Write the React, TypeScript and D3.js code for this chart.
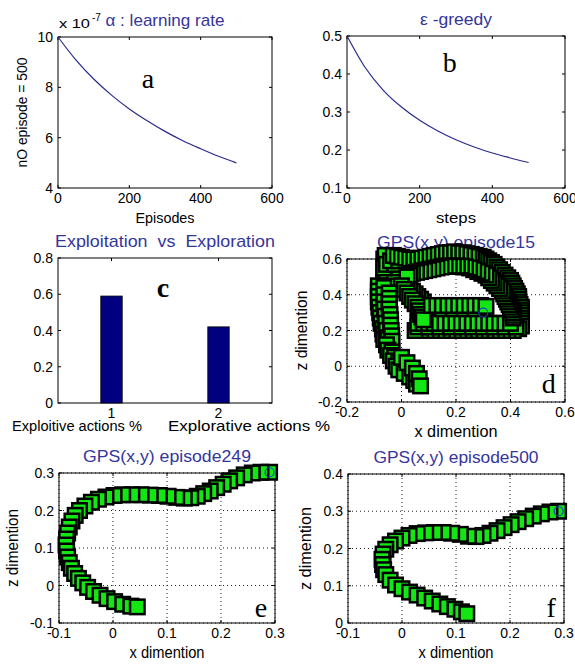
import * as d3 from "d3";
import { useEffect, useRef } from "react";

// panel a: learning rate (x 10^-7) per episode
const episodes = [0, 50, 100, 150, 200, 250, 300, 350, 400, 450, 500];
const learningRate = [10, 9.09, 8.33, 7.69, 7.14, 6.67, 6.25, 5.88, 5.56, 5.26, 5.0];

// panel b: epsilon-greedy per step
const steps = [0, 50, 100, 150, 200, 250, 300, 350, 400, 450, 500];
const epsilon = [0.5, 0.417, 0.357, 0.313, 0.278, 0.25, 0.227, 0.208, 0.192, 0.179, 0.167];

// panel c: exploitation vs exploration
const actionTicks = [1, 2];
const actionShare = [0.59, 0.42];
const actionNames = ["Exploitive actions %", "Explorative actions %"];

// panels d, e, f: GPS tracks [x, z]
const gpsEpisode15: [number, number][] = [
  // upper arm
  [0.3, 0.3], [0.28, 0.3], [0.26, 0.3], [0.24, 0.3], [0.22, 0.3], [0.2, 0.3],
  [0.18, 0.3], [0.16, 0.3], [0.14, 0.3], [0.12, 0.3], [0.1, 0.3],
  [0.11, 0.32], [0.15, 0.32], [0.19, 0.32], [0.23, 0.32], [0.27, 0.32],
  // diagonal up to the blob
  [0.09, 0.33], [0.08, 0.36], [0.07, 0.375], [0.06, 0.39], [0.05, 0.405], [0.04, 0.42],
  [0.03, 0.435], [0.02, 0.45], [0.01, 0.465], [0.0, 0.48], [-0.01, 0.495], [-0.02, 0.51],
  [-0.03, 0.525], [-0.04, 0.54], [-0.05, 0.555], [-0.06, 0.57], [-0.065, 0.6], [-0.06, 0.62],
  // blob
  [-0.065, 0.47], [-0.04, 0.47], [-0.01, 0.47], [-0.065, 0.51], [-0.04, 0.51], [-0.055, 0.49],
  [-0.025, 0.49], [-0.055, 0.53], [-0.025, 0.53], [-0.065, 0.55], [-0.01, 0.55],
  [-0.055, 0.57], [-0.025, 0.57], [-0.04, 0.59], [-0.01, 0.59],
  // outer arch
  [-0.03, 0.62], [-0.015, 0.615], [0.0, 0.61], [0.015, 0.605], [0.03, 0.6], [0.045, 0.6],
  [0.06, 0.6], [0.075, 0.605], [0.09, 0.61], [0.105, 0.615], [0.12, 0.62], [0.135, 0.625],
  [0.15, 0.63], [0.165, 0.635], [0.18, 0.635], [0.195, 0.64], [0.21, 0.635], [0.225, 0.635],
  [0.24, 0.63], [0.255, 0.625], [0.27, 0.62], [0.285, 0.615], [0.3, 0.61], [0.31, 0.6],
  [0.32, 0.59], [0.33, 0.58], [0.34, 0.57], [0.35, 0.555], [0.36, 0.54], [0.37, 0.525],
  [0.38, 0.51], [0.39, 0.495], [0.4, 0.48], [0.405, 0.465], [0.41, 0.45], [0.415, 0.435],
  [0.42, 0.42], [0.425, 0.405], [0.43, 0.39], [0.43, 0.375], [0.43, 0.36], [0.435, 0.345],
  [0.44, 0.33], [0.44, 0.315], [0.44, 0.3], [0.44, 0.285], [0.44, 0.27], [0.44, 0.255],
  [0.44, 0.24], [0.44, 0.225], [0.43, 0.21],
  // lower arm, going left
  [0.41, 0.2], [0.39, 0.2], [0.37, 0.2], [0.35, 0.2], [0.33, 0.2], [0.31, 0.2], [0.29, 0.2],
  [0.27, 0.2], [0.25, 0.2], [0.23, 0.2], [0.21, 0.2], [0.19, 0.2], [0.17, 0.2], [0.15, 0.2],
  [0.13, 0.2], [0.11, 0.2], [0.09, 0.2], [0.07, 0.2], [0.05, 0.2],
  [0.06, 0.22], [0.1, 0.22], [0.14, 0.22], [0.18, 0.22], [0.22, 0.22], [0.26, 0.22],
  [0.3, 0.22], [0.34, 0.22], [0.38, 0.22], [0.42, 0.22],
  // lower arm, coming back
  [0.06, 0.24], [0.08, 0.24], [0.1, 0.24], [0.12, 0.24], [0.14, 0.24], [0.16, 0.24],
  [0.18, 0.24], [0.2, 0.24], [0.22, 0.24], [0.24, 0.24], [0.26, 0.24], [0.28, 0.24],
  [0.3, 0.24], [0.32, 0.24], [0.34, 0.24], [0.36, 0.24], [0.38, 0.24], [0.4, 0.24],
  // inner arch
  [0.41, 0.27], [0.41, 0.285], [0.41, 0.3], [0.405, 0.315], [0.4, 0.33], [0.395, 0.345],
  [0.39, 0.36], [0.385, 0.375], [0.38, 0.39], [0.375, 0.405], [0.37, 0.42], [0.36, 0.435],
  [0.35, 0.45], [0.34, 0.465], [0.33, 0.48], [0.32, 0.495], [0.31, 0.51], [0.295, 0.52],
  [0.28, 0.53], [0.265, 0.54], [0.25, 0.55], [0.235, 0.555], [0.22, 0.56], [0.205, 0.56],
  [0.19, 0.56], [0.175, 0.56], [0.16, 0.56], [0.145, 0.555], [0.13, 0.55], [0.115, 0.545],
  [0.1, 0.54], [0.085, 0.535], [0.07, 0.53], [0.055, 0.525], [0.04, 0.52], [0.03, 0.51], [0.02, 0.5],
  // diagonal back down
  [0.0, 0.45], [0.01, 0.43], [0.02, 0.41], [0.03, 0.39], [0.04, 0.37], [0.05, 0.35],
  [0.06, 0.33], [0.065, 0.31], [0.07, 0.29], [0.075, 0.275], [0.08, 0.26],
  // upper arm, upper row
  [0.11, 0.34], [0.13, 0.34], [0.15, 0.34], [0.17, 0.34], [0.19, 0.34], [0.21, 0.34],
  [0.23, 0.34], [0.25, 0.34], [0.27, 0.34], [0.29, 0.34], [0.31, 0.335],
  // left column
  [-0.085, 0.45], [-0.085, 0.42], [-0.085, 0.39], [-0.085, 0.36], [-0.083, 0.33], [-0.08, 0.3],
  [-0.078, 0.27], [-0.075, 0.24], [-0.07, 0.21], [-0.068, 0.18], [-0.065, 0.15],
  [-0.065, 0.44], [-0.065, 0.4], [-0.065, 0.36], [-0.063, 0.32], [-0.06, 0.28], [-0.058, 0.24],
  [-0.055, 0.2], [-0.05, 0.16], [-0.045, 0.11],
  [-0.045, 0.41], [-0.045, 0.38], [-0.045, 0.35], [-0.045, 0.32], [-0.042, 0.29], [-0.04, 0.26],
  [-0.04, 0.23], [-0.038, 0.2], [-0.036, 0.17], [-0.035, 0.14],
  // down to the end
  [-0.055, 0.12], [-0.05, 0.09], [-0.035, 0.08], [-0.04, 0.06], [-0.025, 0.05], [-0.03, 0.03],
  [-0.01, 0.02], [-0.02, 0.0], [0.005, -0.005], [-0.01, -0.02], [0.02, -0.03], [0.01, -0.04],
  [0.035, -0.05], [0.03, -0.06], [0.05, -0.065], [0.045, -0.08], [0.06, -0.085], [0.055, -0.1],
  [0.0, 0.05], [0.02, 0.02], [0.04, -0.01], [0.055, -0.04], [0.065, -0.07], [0.07, -0.11],
];

const gpsEpisode249: [number, number][] = [
  [0.29, 0.302], [0.274, 0.302], [0.258, 0.3], [0.243, 0.295], [0.229, 0.287], [0.216, 0.279],
  [0.204, 0.27], [0.192, 0.261], [0.18, 0.252], [0.168, 0.245], [0.156, 0.238], [0.144, 0.234],
  [0.132, 0.233], [0.118, 0.235], [0.102, 0.238], [0.086, 0.24], [0.069, 0.241], [0.052, 0.242],
  [0.035, 0.242], [0.018, 0.242], [0.002, 0.24], [-0.013, 0.236], [-0.027, 0.23], [-0.04, 0.222],
  [-0.052, 0.212], [-0.062, 0.2], [-0.07, 0.187], [-0.076, 0.172], [-0.081, 0.156], [-0.084, 0.14],
  [-0.086, 0.124], [-0.087, 0.108], [-0.086, 0.092], [-0.084, 0.076], [-0.081, 0.061], [-0.077, 0.046],
  [-0.071, 0.032], [-0.064, 0.019], [-0.056, 0.007], [-0.047, -0.005], [-0.036, -0.016],
  [-0.024, -0.026], [-0.011, -0.035], [0.003, -0.043], [0.018, -0.05], [0.033, -0.055], [0.045, -0.057],
];

const gpsEpisode500: [number, number][] = [
  [0.29, 0.3], [0.274, 0.298], [0.258, 0.293], [0.243, 0.287], [0.229, 0.28], [0.215, 0.272],
  [0.202, 0.264], [0.189, 0.256], [0.176, 0.248], [0.163, 0.241], [0.15, 0.235], [0.137, 0.232],
  [0.123, 0.233], [0.108, 0.238], [0.092, 0.241], [0.076, 0.243], [0.06, 0.243], [0.044, 0.242],
  [0.028, 0.24], [0.013, 0.235], [0.0, 0.228], [-0.012, 0.22], [-0.022, 0.21], [-0.03, 0.198],
  [-0.035, 0.185], [-0.037, 0.171], [-0.036, 0.157], [-0.034, 0.143], [-0.03, 0.13],
  [-0.022, 0.115], [-0.012, 0.102], [0.0, 0.092], [0.014, 0.083], [0.028, 0.075], [0.042, 0.067],
  [0.056, 0.059], [0.07, 0.051], [0.084, 0.044], [0.098, 0.037], [0.11, 0.03], [0.12, 0.025],
];

const FONT = "'Liberation Sans', Arial, Helvetica, sans-serif";
const SERIF = "'Liberation Serif', 'Times New Roman', serif";
const TITLE_COLOR = "#35359c";
const LINE_COLOR = "#2a2a8c";
const BAR_COLOR = "#000080";
const MARKER_GREEN = "#14e614";

type Sel = d3.Selection<SVGGElement, unknown, null, undefined>;

interface PanelSpec {
  left: number;
  top: number;
  right: number;
  bottom: number;
  xDomain: [number, number];
  yDomain: [number, number];
  xTicks: number[];
  yTicks: number[];
  grid?: boolean;
  title: string;
  titleWidth: number;
  xLabel?: string;
  xLabelWidth?: number;
  yLabel?: string;
  yLabelWidth?: number;
  yLabelX?: number;
  labelSize: number;
}

const fmt = (v: number) => String(+v.toFixed(2));

// text stretched to the width it has in the picture
function fitText(g: Sel, str: string, size: number, width: number) {
  return g.append("text")
    .attr("xml:space", "preserve")
    .attr("textLength", width)
    .attr("lengthAdjust", "spacingAndGlyphs")
    .style("white-space", "pre")
    .style("font-family", FONT)
    .style("font-size", `${size}px`)
    .text(str);
}

function drawPanel(root: Sel, p: PanelSpec) {
  const x = d3.scaleLinear().domain(p.xDomain).range([p.left, p.right]);
  const y = d3.scaleLinear().domain(p.yDomain).range([p.bottom, p.top]);
  const g = root.append("g");
  const tick = 3;

  if (p.grid) {
    p.xTicks.forEach((t) => {
      g.append("line")
        .attr("x1", x(t)).attr("x2", x(t))
        .attr("y1", p.top).attr("y2", p.bottom)
        .style("stroke", "#222").style("stroke-width", 1)
        .style("stroke-dasharray", "1,3");
    });
    p.yTicks.forEach((t) => {
      g.append("line")
        .attr("x1", p.left).attr("x2", p.right)
        .attr("y1", y(t)).attr("y2", y(t))
        .style("stroke", "#222").style("stroke-width", 1)
        .style("stroke-dasharray", "1,3");
    });
  }

  g.append("rect")
    .attr("x", p.left).attr("y", p.top)
    .attr("width", p.right - p.left).attr("height", p.bottom - p.top)
    .style("fill", "none").style("stroke", "#000").style("stroke-width", 1);

  // inward ticks on all four sides
  p.xTicks.forEach((t) => {
    g.append("line").attr("x1", x(t)).attr("x2", x(t))
      .attr("y1", p.bottom).attr("y2", p.bottom - tick).style("stroke", "#000");
    g.append("line").attr("x1", x(t)).attr("x2", x(t))
      .attr("y1", p.top).attr("y2", p.top + tick).style("stroke", "#000");
    g.append("text")
      .attr("x", x(t)).attr("y", p.bottom + 15)
      .attr("text-anchor", "middle")
      .style("font-family", FONT).style("font-size", "14px").style("fill", "#000")
      .text(fmt(t));
  });
  p.yTicks.forEach((t) => {
    g.append("line").attr("x1", p.left).attr("x2", p.left + tick)
      .attr("y1", y(t)).attr("y2", y(t)).style("stroke", "#000");
    g.append("line").attr("x1", p.right).attr("x2", p.right - tick)
      .attr("y1", y(t)).attr("y2", y(t)).style("stroke", "#000");
    g.append("text")
      .attr("x", p.left - 5).attr("y", y(t)).attr("dy", "0.36em")
      .attr("text-anchor", "end")
      .style("font-family", FONT).style("font-size", "14px").style("fill", "#000")
      .text(fmt(t));
  });

  const cx = (p.left + p.right) / 2;
  const cy = (p.top + p.bottom) / 2;

  fitText(g, p.title, 17, p.titleWidth)
    .attr("x", cx).attr("y", p.top - 11)
    .attr("text-anchor", "middle")
    .style("fill", TITLE_COLOR);

  if (p.xLabel) {
    fitText(g, p.xLabel, p.labelSize, p.xLabelWidth ?? 60)
      .attr("x", cx).attr("y", p.bottom + 35)
      .attr("text-anchor", "middle")
      .style("fill", "#000");
  }
  if (p.yLabel) {
    fitText(g, p.yLabel, p.labelSize, p.yLabelWidth ?? 80)
      .attr("transform", `translate(${p.yLabelX},${cy}) rotate(-90)`)
      .attr("text-anchor", "middle")
      .style("fill", "#000");
  }

  return { g, x, y };
}

function letter(g: Sel, text: string, px: number, py: number, bold = false) {
  g.append("text")
    .attr("x", px).attr("y", py)
    .attr("text-anchor", "middle")
    .style("font-family", SERIF)
    .style("font-size", "28px")
    .style("font-weight", bold ? "bold" : "normal")
    .style("fill", "#000")
    .text(text);
}

function drawTrack(g: Sel, x: d3.ScaleLinear<number, number>, y: d3.ScaleLinear<number, number>, track: [number, number][]) {
  const s = 14.5;
  g.selectAll(null)
    .data(track)
    .enter()
    .append("rect")
    .attr("x", (d) => x(d[0]) - s / 2)
    .attr("y", (d) => y(d[1]) - s / 2)
    .attr("width", s)
    .attr("height", s)
    .style("fill", MARKER_GREEN)
    .style("stroke", "#000")
    .style("stroke-width", 2.5);
  const start = track[0];
  g.append("circle")
    .attr("cx", x(start[0])).attr("cy", y(start[1])).attr("r", 4.5)
    .style("fill", "none").style("stroke", "#2040c0").style("stroke-width", 1.2);
}

export default function App() {
  const svgRef = useRef<SVGSVGElement>(null);

  useEffect(() => {
    if (!svgRef.current) return;
    const svg = d3.select(svgRef.current);
    svg.selectAll("*").remove();
    const root = svg.append("g") as unknown as Sel;

    // a
    const a = drawPanel(root, {
      left: 58, top: 37, right: 272, bottom: 188,
      xDomain: [0, 600], yDomain: [4, 10],
      xTicks: [0, 200, 400, 600], yTicks: [4, 6, 8, 10],
      title: "α : learning rate", titleWidth: 119,
      xLabel: "Episodes", xLabelWidth: 59,
      yLabel: "nO episode = 500", yLabelWidth: 110, yLabelX: 27,
      labelSize: 14,
    });
    const lineA = d3.line<number>()
      .x((_, i) => a.x(episodes[i]))
      .y((d) => a.y(d))
      .curve(d3.curveMonotoneX);
    a.g.append("path").datum(learningRate).attr("d", lineA)
      .style("fill", "none").style("stroke", LINE_COLOR).style("stroke-width", 1.2);
    fitText(a.g, "x 10", 13, 31).attr("x", 59).attr("y", 28);
    a.g.append("text").attr("x", 92).attr("y", 21)
      .style("font-family", FONT).style("font-size", "10px").text("-7");
    letter(a.g, "a", a.x(252), a.y(7.97));

    // b
    const b = drawPanel(root, {
      left: 347, top: 36, right: 565, bottom: 188,
      xDomain: [0, 600], yDomain: [0.1, 0.5],
      xTicks: [0, 200, 400, 600], yTicks: [0.1, 0.2, 0.3, 0.4, 0.5],
      title: "ε -greedy", titleWidth: 72,
      xLabel: "steps", xLabelWidth: 40,
      labelSize: 15,
    });
    const lineB = d3.line<number>()
      .x((_, i) => b.x(steps[i]))
      .y((d) => b.y(d))
      .curve(d3.curveMonotoneX);
    b.g.append("path").datum(epsilon).attr("d", lineB)
      .style("fill", "none").style("stroke", LINE_COLOR).style("stroke-width", 1.2);
    letter(b.g, "b", b.x(283), b.y(0.405));

    // c
    const c = drawPanel(root, {
      left: 58, top: 258, right: 272, bottom: 403,
      xDomain: [0.5, 2.5], yDomain: [0, 0.8],
      xTicks: actionTicks, yTicks: [0, 0.2, 0.4, 0.6, 0.8],
      title: "Exploitation  vs  Exploration", titleWidth: 220,
      labelSize: 14,
    });
    const barW = 0.2;
    c.g.selectAll(null)
      .data(actionShare)
      .enter()
      .append("rect")
      .attr("x", (_, i) => c.x(actionTicks[i] - barW / 2))
      .attr("y", (d) => c.y(d))
      .attr("width", c.x(barW) - c.x(0))
      .attr("height", (d) => c.y(0) - c.y(d))
      .style("fill", BAR_COLOR)
      .style("stroke", "#000")
      .style("stroke-width", 0.8);
    const nameX = [12, 168];
    const nameW = [130, 162];
    actionNames.forEach((name, i) => {
      fitText(c.g, name, 14, nameW[i]).attr("x", nameX[i]).attr("y", 431);
    });
    letter(c.g, "c", c.x(1.48), c.y(0.585), true);

    // d
    const dP = drawPanel(root, {
      left: 347, top: 259, right: 565, bottom: 402,
      xDomain: [-0.2, 0.6], yDomain: [-0.2, 0.6],
      xTicks: [-0.2, 0, 0.2, 0.4, 0.6], yTicks: [-0.2, 0, 0.2, 0.4, 0.6],
      grid: true,
      title: "GPS(x,y) episode15", titleWidth: 158,
      xLabel: "x dimention", xLabelWidth: 83,
      yLabel: "z dimention", yLabelWidth: 80, yLabelX: 307,
      labelSize: 16,
    });
    drawTrack(dP.g, dP.x, dP.y, gpsEpisode15);
    letter(dP.g, "d", dP.x(0.54), dP.y(-0.15));

    // e
    const e = drawPanel(root, {
      left: 59, top: 473, right: 275, bottom: 623,
      xDomain: [-0.1, 0.3], yDomain: [-0.1, 0.3],
      xTicks: [-0.1, 0, 0.1, 0.2, 0.3], yTicks: [-0.1, 0, 0.1, 0.2, 0.3],
      grid: true,
      title: "GPS(x,y) episode249", titleWidth: 168,
      xLabel: "x dimention", xLabelWidth: 75,
      yLabel: "z dimention", yLabelWidth: 78, yLabelX: 18,
      labelSize: 16,
    });
    drawTrack(e.g, e.x, e.y, gpsEpisode249);
    letter(e.g, "e", e.x(0.274), e.y(-0.084));

    // f
    const f = drawPanel(root, {
      left: 348, top: 474, right: 564, bottom: 623,
      xDomain: [-0.1, 0.3], yDomain: [0, 0.4],
      xTicks: [-0.1, 0, 0.1, 0.2, 0.3], yTicks: [0, 0.1, 0.2, 0.3, 0.4],
      grid: true,
      title: "GPS(x,y) episode500", titleWidth: 165,
      xLabel: "x dimention", xLabelWidth: 75,
      yLabel: "z dimention", yLabelWidth: 83, yLabelX: 311,
      labelSize: 16,
    });
    drawTrack(f.g, f.x, f.y, gpsEpisode500);
    letter(f.g, "f", f.x(0.276), f.y(0.016));
  }, []);

  return (
    <svg
      ref={svgRef}
      width={575}
      height={664}
      style={{ position: "absolute", left: 0, top: 0, background: "#fff" }}
    />
  );
}
